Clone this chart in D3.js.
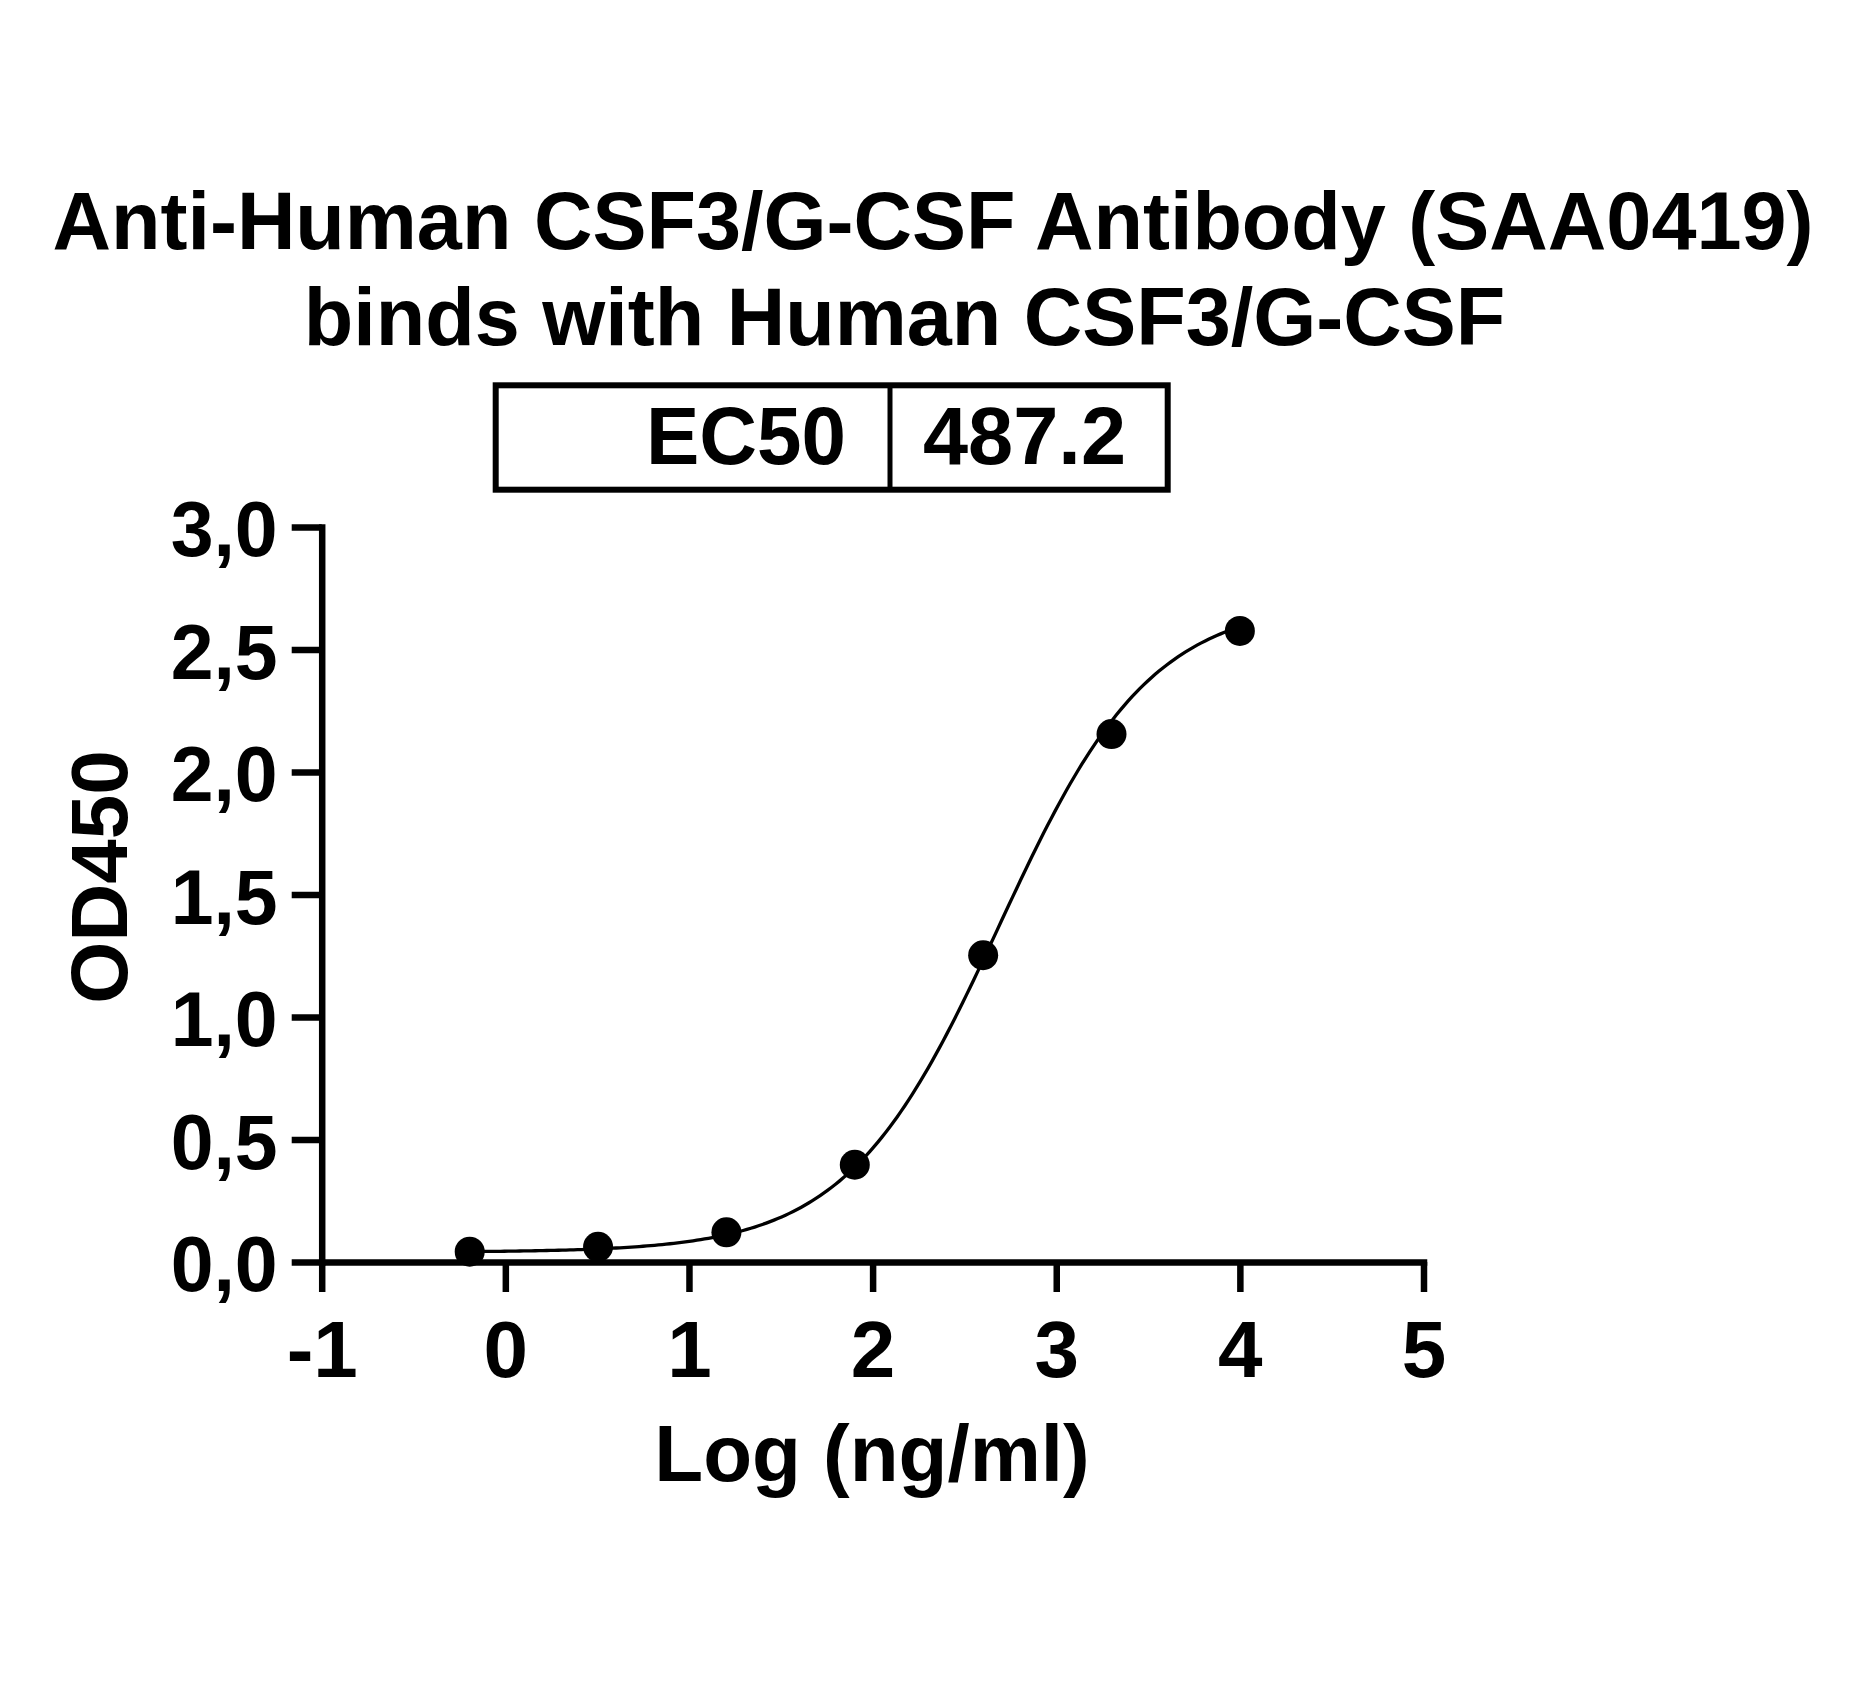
<!DOCTYPE html>
<html>
<head>
<meta charset="utf-8">
<script src="https://cdn.jsdelivr.net/npm/d3@7"></script>
<style>
  html, body { margin: 0; padding: 0; background: #fff; }
  svg { display: block; }
  text { font-family: "Liberation Sans", Arial, Helvetica, sans-serif; font-weight: bold; fill: #000; }
</style>
</head>
<body>
<svg id="chart" width="1873" height="1688"></svg>
<script>
// ---- Data ----
const titleLines = ["Anti-Human CSF3/G-CSF Antibody (SAA0419)", "binds with Human CSF3/G-CSF"];
const ec50Label = "EC50";
const ec50Value = 487.2;
const logConc = [-0.194, 0.505, 1.204, 1.903, 2.602, 3.301, 4.0];
const od450 = [0.042, 0.062, 0.121, 0.397, 1.252, 2.155, 2.576];
const xTicks = [-1, 0, 1, 2, 3, 4, 5];
const yTicks = [0, 0.5, 1.0, 1.5, 2.0, 2.5, 3.0];
// 4-parameter logistic fit parameters
const fitBottom = 0.04;
const fitTop = 2.70;
const fitHill = 1.05;
const fitLogEC50 = Math.log10(ec50Value);

const svg = d3.select("#chart");
svg.append("rect").attr("width", 1873).attr("height", 1688).attr("fill", "#fff");

const x = d3.scaleLinear().domain([-1, 5]).range([321.7, 1423.5]);
const y = d3.scaleLinear().domain([0, 3]).range([1262, 527]);

// Title
svg.append("text").attr("x", 933).attr("y", 249).attr("text-anchor", "middle")
  .style("font-size", "81px").text(titleLines[0]);
svg.append("text").attr("x", 904.5).attr("y", 345).attr("text-anchor", "middle")
  .style("font-size", "81px").text(titleLines[1]);

// EC50 box
const box = svg.append("g");
box.append("rect").attr("x", 495.7).attr("y", 385.3).attr("width", 672).attr("height", 104.4)
  .attr("fill", "none").attr("stroke", "#000").attr("stroke-width", 6);
box.append("line").attr("x1", 890).attr("x2", 890).attr("y1", 385.3).attr("y2", 489.7)
  .attr("stroke", "#000").attr("stroke-width", 5);
box.append("text").attr("x", 846).attr("y", 463.5).attr("text-anchor", "end")
  .attr("textLength", 200).attr("lengthAdjust", "spacingAndGlyphs")
  .style("font-size", "81px").text(ec50Label);
box.append("text").attr("x", 923).attr("y", 463.5)
  .attr("textLength", 203).attr("lengthAdjust", "spacingAndGlyphs")
  .style("font-size", "81px").text(ec50Value.toFixed(1));

// Axes
const fmtY = d => d3.format(".1f")(d).replace(".", ",");
const yAxis = svg.append("g").attr("transform", `translate(${x(-1)},0)`)
  .call(d3.axisLeft(y).tickValues(yTicks).tickFormat(fmtY).tickSize(30).tickSizeOuter(0).tickPadding(14));
const xAxis = svg.append("g").attr("transform", `translate(0,${y(0)})`)
  .call(d3.axisBottom(x).tickValues(xTicks).tickFormat(d3.format("d")).tickSize(30).tickSizeOuter(0).tickPadding(28));

[yAxis, xAxis].forEach(g => {
  g.attr("font-family", null).attr("font-size", null);
  g.select(".domain").attr("stroke", "#000").attr("stroke-width", 6.5).attr("stroke-linecap", "square");
  g.selectAll(".tick line").attr("stroke", "#000").attr("stroke-width", 6.5);
  g.selectAll(".tick text").style("font-size", "80px").attr("fill", "#000");
});
yAxis.selectAll(".tick text").style("font-size", "77px").attr("dy", "0.37em");
xAxis.selectAll(".tick text").text(d => d < 0 ? "-" + Math.abs(d) : d);

// Axis labels
svg.append("text").attr("transform", `translate(127,877) rotate(-90)`).attr("text-anchor", "middle")
  .style("font-size", "80px").text("OD450");
svg.append("text").attr("x", 872).attr("y", 1481).attr("text-anchor", "middle")
  .style("font-size", "80px").text("Log (ng/ml)");

// Fitted curve
const fit = xv => fitBottom + (fitTop - fitBottom) / (1 + Math.pow(10, (fitLogEC50 - xv) * fitHill));
const xMin = d3.min(logConc), xMax = d3.max(logConc);
const curvePts = d3.range(0, 201).map(i => {
  const xv = xMin + (xMax - xMin) * i / 200;
  return [xv, fit(xv)];
});
svg.append("path").datum(curvePts)
  .attr("d", d3.line().x(d => x(d[0])).y(d => y(d[1])).curve(d3.curveLinear))
  .attr("fill", "none").attr("stroke", "#000").attr("stroke-width", 3.3);

// Points
svg.append("g").selectAll("circle").data(logConc.map((v, i) => [v, od450[i]]))
  .join("circle")
  .attr("cx", d => x(d[0])).attr("cy", d => y(d[1])).attr("r", 15).attr("fill", "#000");
</script>
</body>
</html>
